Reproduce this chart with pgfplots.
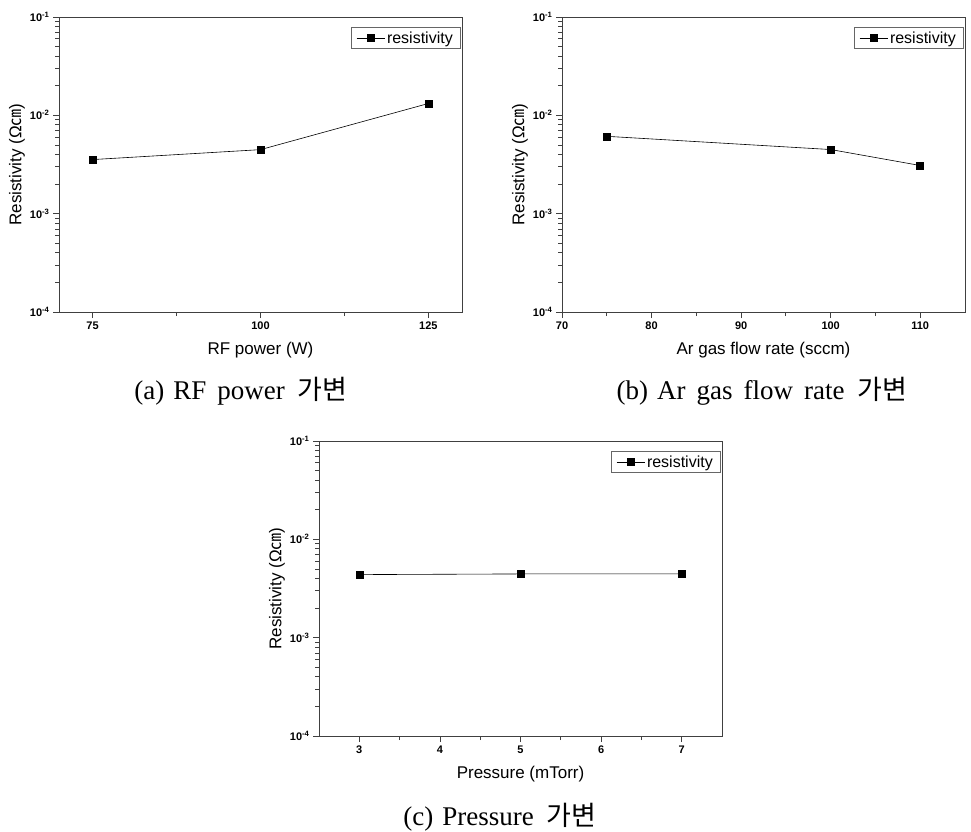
\documentclass[border=0pt]{standalone}
\usepackage{fontspec}
\setmainfont{Liberation Serif}
\setsansfont{Liberation Sans}
\newfontfamily\cjk{Noto Sans CJK KR}
\usepackage{pgfplots}
\pgfplotsset{compat=1.18}

\pgfplotsset{
  resplot/.style={
    scale only axis, width=403pt, height=295pt,
    ymin=1e-4, ymax=1e-1,
    ytick={1e-4,1e-3,1e-2,1e-1},
    extra y ticks={2e-4,3e-4,4e-4,5e-4,6e-4,7e-4,8e-4,9e-4,
                   2e-3,3e-3,4e-3,5e-3,6e-3,7e-3,8e-3,9e-3,
                   2e-2,3e-2,4e-2,5e-2,6e-2,7e-2,8e-2,9e-2},
    extra y tick labels={},
    extra y tick style={major tick length=4pt},
    yticklabels={10\textsuperscript{-4},10\textsuperscript{-3},10\textsuperscript{-2},10\textsuperscript{-1}},
    /pgf/number format/assume math mode=true,
    tick align=outside, xtick pos=left, ytick pos=left,
    major tick length=6pt, minor tick length=4pt,
    axis line style={line width=1pt, black!75},
    every tick/.style={black!75, line width=0.8pt},
    tick label style={font=\sffamily\bfseries\fontsize{11}{13}\selectfont},
    label style={font=\sffamily\fontsize{17}{20}\selectfont},
    ylabel={Resistivity (Ω{\cjk ㎝})},
    ylabel style={at={(axis description cs:-0.104,0.5)}, anchor=center},
    xlabel style={yshift=-6pt},
    legend style={at={(0.995,0.965)}, anchor=north east, draw=black!60,
      font=\sffamily\fontsize{16}{18}\selectfont, inner sep=2pt,
      inner xsep=5pt, cells={anchor=west}},
    legend image code/.code={%
      \draw[##1, mark repeat=2, mark phase=2]
        plot coordinates {(10pt,0pt) (24pt,0pt) (38pt,0pt)};},
  }
}

\begin{document}
\begin{tikzpicture}
\path[use as bounding box] (0,0) rectangle (971pt,-831pt);

% (a) RF power
\begin{semilogyaxis}[resplot, at={(59pt,-312pt)}, anchor=south west,
    xmin=70, xmax=130, xtick={75,100,125}, minor xtick={87.5,112.5},
    xlabel={RF power (W)}]
  \addplot[black, line width=0.6pt, mark=square*, mark size=3.5pt]
    coordinates {(75,3.55e-3) (100,4.48e-3) (125,1.32e-2)};
  \addlegendentry{resistivity}
\end{semilogyaxis}

% (b) Ar gas flow rate
\begin{semilogyaxis}[resplot, at={(562pt,-312pt)}, anchor=south west,
    xmin=70, xmax=115, xtick={70,80,90,100,110}, minor xtick={75,85,95,105},
    xlabel={Ar gas flow rate (sccm)}]
  \addplot[black, line width=0.6pt, mark=square*, mark size=3.5pt]
    coordinates {(75,6.12e-3) (100,4.49e-3) (110,3.09e-3)};
  \addlegendentry{resistivity}
\end{semilogyaxis}

% (c) Pressure
\begin{semilogyaxis}[resplot, at={(319pt,-736pt)}, anchor=south west,
    xmin=2.5, xmax=7.5, xtick={3,4,5,6,7}, minor xtick={3.5,4.5,5.5,6.5},
    xlabel={Pressure (mTorr)}]
  \addplot[black, line width=0.6pt, mark=square*, mark size=3.5pt]
    coordinates {(3,4.38e-3) (5,4.45e-3) (7,4.45e-3)};
  \addlegendentry{resistivity}
\end{semilogyaxis}

\node[anchor=base, font=\fontsize{27}{30}\selectfont] at (241pt,-399pt)
  {(a)\hspace{9pt}RF\hspace{11pt}power\hspace{13pt}{\cjk 가변}};
\node[anchor=base, font=\fontsize{27}{30}\selectfont] at (762pt,-399pt)
  {(b)\hspace{9pt}Ar\hspace{11pt}gas\hspace{11pt}flow\hspace{11pt}rate\hspace{13pt}{\cjk 가변}};
\node[anchor=base, font=\fontsize{27}{30}\selectfont] at (500pt,-825pt)
  {(c)\hspace{9pt}Pressure\hspace{13pt}{\cjk 가변}};
\end{tikzpicture}
\end{document}
